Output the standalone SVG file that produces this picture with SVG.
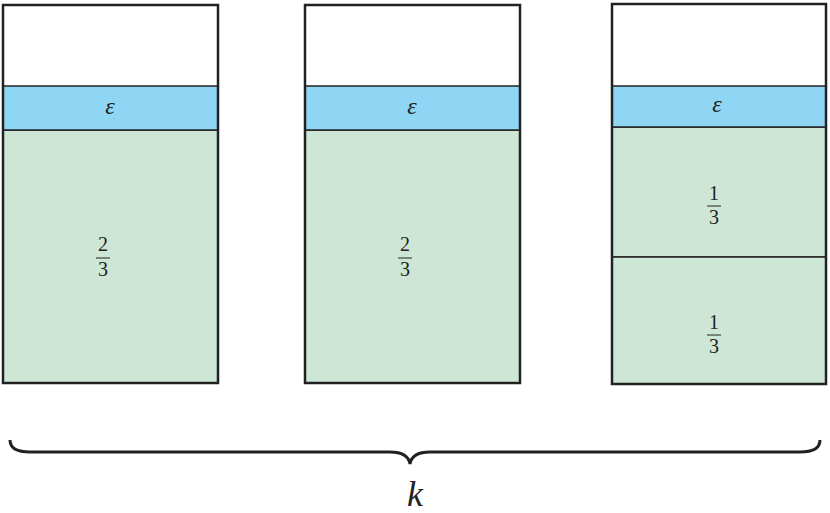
<svg xmlns="http://www.w3.org/2000/svg" width="830" height="513" viewBox="0 0 830 513">
<style>
.g{fill:#cde6d6;stroke:#222;stroke-width:1.5}
.b{fill:#8fd6f5;stroke:#222;stroke-width:1.5}
.o{fill:none;stroke:#222;stroke-width:2.5}
.t{font-family:"Liberation Serif",serif;font-size:20px;fill:#222;text-anchor:middle}
.e{font-family:"Liberation Serif",serif;font-style:italic;font-size:24px;fill:#222;text-anchor:middle}
.fl{stroke:#222;stroke-width:1}
</style>
<rect width="830" height="513" fill="#fff"/>
<g id="bin1">
<rect class="g" x="3" y="130" width="215" height="253"/>
<rect class="b" x="3" y="86" width="215" height="44"/>
<rect class="o" x="3" y="5" width="215" height="378"/>
<text class="e" x="110" y="114">ε</text>
<text class="t" x="103" y="251">2</text><line class="fl" x1="96" y1="258" x2="110" y2="258"/><text class="t" x="103" y="276">3</text>
</g>
<g id="bin2">
<rect class="g" x="305" y="130" width="215" height="253"/>
<rect class="b" x="305" y="86" width="215" height="44"/>
<rect class="o" x="305" y="5" width="215" height="378"/>
<text class="e" x="412" y="114">ε</text>
<text class="t" x="405" y="251">2</text><line class="fl" x1="398" y1="258" x2="412" y2="258"/><text class="t" x="405" y="276">3</text>
</g>
<g id="bin3">
<rect class="g" x="612" y="127" width="214" height="130"/>
<rect class="g" x="612" y="257" width="214" height="127"/>
<rect class="b" x="612" y="86" width="214" height="41"/>
<rect class="o" x="612" y="4" width="214" height="380"/>
<text class="e" x="717" y="112">ε</text>
<text class="t" x="714" y="200">1</text><line class="fl" x1="707" y1="206" x2="721" y2="206"/><text class="t" x="714" y="224">3</text>
<text class="t" x="714" y="329">1</text><line class="fl" x1="707" y1="335" x2="721" y2="335"/><text class="t" x="714" y="353">3</text>
</g>
<g id="brace">
<path d="M10,440 Q10,452 30,452 L390,452 Q408,452 410,464 Q412,452 430,452 L800,452 Q820,452 820,440" fill="none" stroke="#222" stroke-width="3"/>
<text class="e" x="415" y="506" style="font-size:36px">k</text>
</g>
</svg>
